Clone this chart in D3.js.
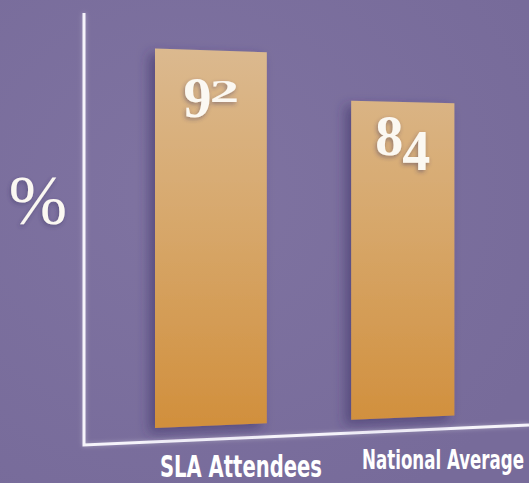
<!DOCTYPE html>
<html>
<head>
<meta charset="utf-8">
<script src="https://d3js.org/d3.v7.min.js"></script>
<style>
  html, body { margin: 0; padding: 0; background: #7b6f9e; overflow: hidden; }
  svg { display: block; }
</style>
</head>
<body>
<div id="chart"></div>
<script>
// data
const categories = ["SLA Attendees", "National Average"];
const values = [92, 84];
const axisLabel = "%";

const width = 529, height = 483;

const svg = d3.select("#chart")
    .append("svg")
    .attr("width", width)
    .attr("height", height);

const defs = svg.append("defs");

// background with a soft lighter area
const bg = defs.append("radialGradient")
    .attr("id", "bg")
    .attr("cx", "35%").attr("cy", "40%").attr("r", "75%");
bg.append("stop").attr("offset", "0%").attr("stop-color", "#7f73a1");
bg.append("stop").attr("offset", "100%").attr("stop-color", "#776b9a");

svg.append("rect")
    .attr("width", width)
    .attr("height", height)
    .attr("fill", "url(#bg)");

// bar gradient (shared, in page coordinates)
const grad = defs.append("linearGradient")
    .attr("id", "barFill")
    .attr("gradientUnits", "userSpaceOnUse")
    .attr("x1", 0).attr("y1", 48)
    .attr("x2", 0).attr("y2", 428);
grad.append("stop").attr("offset", "0%").attr("stop-color", "#dbb98f");
grad.append("stop").attr("offset", "45%").attr("stop-color", "#d7a86c");
grad.append("stop").attr("offset", "100%").attr("stop-color", "#d18f3c");

// shadows
const shadow = defs.append("filter")
    .attr("id", "barShadow")
    .attr("x", "-30%").attr("y", "-20%")
    .attr("width", "160%").attr("height", "140%");
shadow.append("feDropShadow")
    .attr("dx", -6).attr("dy", 5)
    .attr("stdDeviation", 6)
    .attr("flood-color", "#3b3164")
    .attr("flood-opacity", 0.55);

const glow = defs.append("filter")
    .attr("id", "glow")
    .attr("filterUnits", "userSpaceOnUse")
    .attr("x", 0).attr("y", 0)
    .attr("width", width).attr("height", height);
glow.append("feDropShadow")
    .attr("dx", 0).attr("dy", 0)
    .attr("stdDeviation", 2)
    .attr("flood-color", "#ffffff")
    .attr("flood-opacity", 0.35);

const textShadow = defs.append("filter")
    .attr("id", "textShadow")
    .attr("x", "-30%").attr("y", "-30%")
    .attr("width", "160%").attr("height", "160%");
textShadow.append("feDropShadow")
    .attr("dx", -1).attr("dy", 2)
    .attr("stdDeviation", 2)
    .attr("flood-color", "#3b3164")
    .attr("flood-opacity", 0.45);

// scales
const x = d3.scaleBand()
    .domain(categories)
    .range([155, 463])
    .paddingInner(0.43)
    .paddingOuter(0);

// bar height at depth 1
const y = d3.scaleLinear()
    .domain([28, 100])
    .range([0, 427]);

// perspective: things further right are further away
const depth = d3.scaleLinear().domain([155, 455]).range([1, 0.94]);
const floor = d3.scaleLinear().domain([155, 455]).range([428, 415.5]);
const axisFloor = d3.scaleLinear().domain([84, 529]).range([445, 425]);

const bars = categories.map((c, i) => {
    const x0 = x(c);
    const x1 = x0 + x.bandwidth() * depth(x0) * depth(x0);
    return {
        cat: c,
        value: values[i],
        x0: x0,
        x1: x1,
        top0: floor(x0) - y(values[i]) * depth(x0),
        top1: floor(x1) - y(values[i]) * depth(x1)
    };
});

// axes as one L-shaped path
svg.append("path")
    .attr("d", d3.line()([
        [84, 13],
        [84, axisFloor(84)],
        [529, axisFloor(529)]
    ]))
    .attr("fill", "none")
    .attr("stroke", "#f6f4fb")
    .attr("stroke-width", 3)
    .attr("stroke-linejoin", "miter")
    .attr("filter", "url(#glow)");

// bars
svg.selectAll(".bar")
    .data(bars)
    .enter()
    .append("path")
    .attr("class", "bar")
    .attr("d", d => d3.line()([
        [d.x0, floor(d.x0)],
        [d.x0, d.top0],
        [d.x1, d.top1],
        [d.x1, floor(d.x1)]
    ]) + "Z")
    .attr("fill", "url(#barFill)")
    .attr("filter", "url(#barShadow)");

// old-style figures imitated from lining digits
const digitStyle = {
    "0": "small", "1": "small", "2": "small",
    "3": "desc", "4": "desc", "5": "desc", "7": "desc", "9": "desc",
    "6": "tall", "8": "tall"
};
const fontSize = 56;
const advance = 27;

const labels = svg.selectAll(".value")
    .data(bars)
    .enter()
    .append("g")
    .attr("class", "value")
    .attr("filter", "url(#textShadow)")
    .attr("transform", d => {
        const cx = (d.x0 + d.x1) / 2;
        return `translate(${cx},${d.top0 + 54})`;
    });

labels.each(function(d) {
    const g = d3.select(this);
    const digits = String(d.value).split("");
    const startX = -digits.length * advance / 2;
    digits.forEach((ch, j) => {
        const kind = digitStyle[ch];
        let dy = 0, sy = 1, sx = 1;
        if (kind === "desc") dy = 15;
        if (kind === "small") { sy = 0.55; sx = 1.05; }
        g.append("text")
            .attr("transform", `translate(${startX + j * advance + advance / 2},${dy}) scale(${sx},${sy})`)
            .attr("text-anchor", "middle")
            .attr("font-family", "'Liberation Serif', 'DejaVu Serif', serif")
            .attr("font-weight", "bold")
            .attr("font-size", fontSize)
            .attr("fill", "#fbf8f2")
            .text(ch);
    });
});

// % label
svg.append("text")
    .attr("x", 38)
    .attr("y", 224)
    .attr("text-anchor", "middle")
    .attr("font-family", "'Liberation Serif', 'DejaVu Serif', serif")
    .attr("font-size", 70)
    .attr("fill", "#fbf8f2")
    .attr("filter", "url(#textShadow)")
    .text(axisLabel);

// category labels, squeezed horizontally to a condensed look
const catSize = [30, 27];
const catWidth = [162, 162];
svg.selectAll(".cat")
    .data(bars)
    .enter()
    .append("text")
    .attr("class", "cat")
    .attr("font-family", "'Liberation Sans Narrow', 'DejaVu Sans Condensed', 'Liberation Sans', sans-serif")
    .attr("font-weight", "bold")
    .attr("font-size", (d, i) => catSize[i])
    .attr("fill", "#ffffff")
    .text(d => d.cat)
    .attr("transform", function(d, i) {
        const natural = this.getComputedTextLength();
        const sx = catWidth[i] / natural;
        const tx = d.x0 + 5 + (d.x0 - 155) * 0.03;
        const ty = axisFloor(d.x0) + (i === 0 ? 35 : 36);
        return `translate(${tx},${ty}) scale(${sx},1)`;
    });
</script>
</body>
</html>
